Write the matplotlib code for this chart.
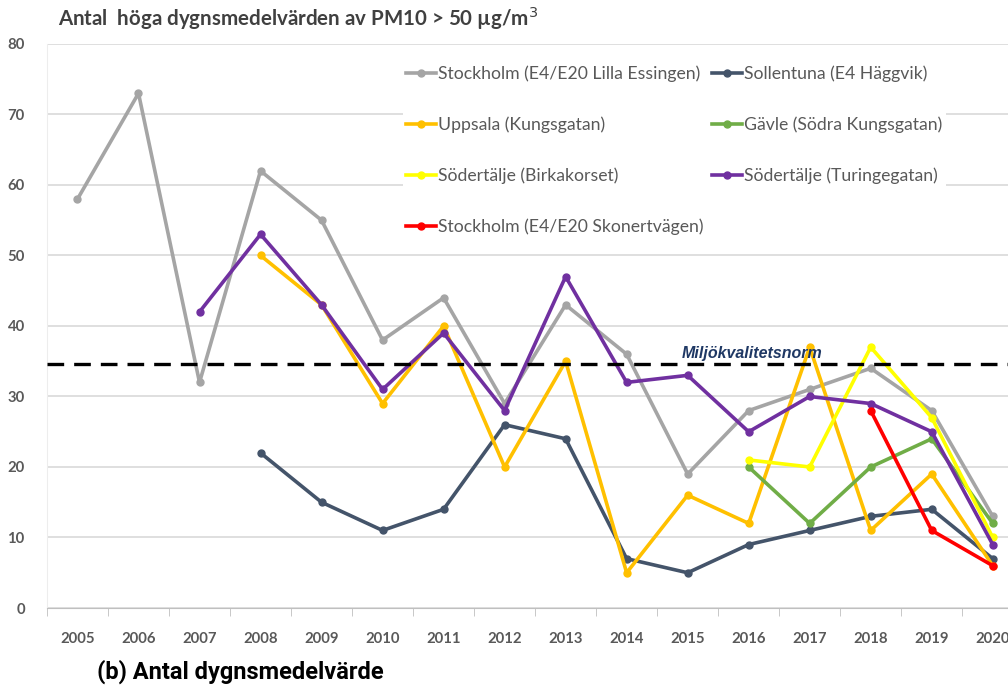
import numpy as np
import matplotlib.pyplot as plt
from matplotlib.ticker import FixedLocator

years = list(range(2005, 2021))

# values per station, None where no measurement
stockholm_le = [58, 73, 32, 62, 55, 38, 44, 29, 43, 36, 19, 28, 31, 34, 28, 13]
sollentuna   = [None, None, None, 22, 15, 11, 14, 26, 24, 7, 5, 9, 11, 13, 14, 7]
uppsala      = [None, None, None, 50, 43, 29, 40, 20, 35, 5, 16, 12, 37, 11, 19, 6]
gavle        = [None] * 11 + [20, 12, 20, 24, 12]
sod_birka    = [None] * 11 + [21, 20, 37, 27, 10]
sod_turing   = [None, None, 42, 53, 43, 31, 39, 28, 47, 32, 33, 25, 30, 29, 25, 9]
stockholm_sk = [None] * 13 + [28, 11, 6]

series = [
    ("Stockholm (E4/E20 Lilla Essingen)", stockholm_le, "#A5A5A5"),
    ("Sollentuna (E4 Häggvik)", sollentuna, "#44546A"),
    ("Uppsala (Kungsgatan)", uppsala, "#FFC000"),
    ("Gävle (Södra Kungsgatan)", gavle, "#70AD47"),
    ("Södertälje (Birkakorset)", sod_birka, "#FFFF00"),
    ("Södertälje (Turingegatan)", sod_turing, "#7030A0"),
    ("Stockholm (E4/E20 Skonertvägen)", stockholm_sk, "#FF0000"),
]
norm_value = 34.6

plt.rcParams['font.family'] = ['Lato', 'DejaVu Sans']

fig = plt.figure(figsize=(10.08, 6.86), dpi=100)
ax = fig.add_axes([0.0466, 0.1137, 0.9534, 0.8222])

x = np.arange(len(years))
handles = []
for label, vals, color in series:
    y = np.array([np.nan if v is None else v for v in vals], dtype=float)
    h, = ax.plot(x, y, color=color, lw=2.6, marker='o', ms=5, label=label, zorder=3)
    handles.append(h)

ax.axhline(norm_value, color='black', lw=2.4, ls=(0, (5, 3)), zorder=4)
ax.text(9.9, norm_value + 0.9, "Miljökvalitetsnorm", color="#1F3864",
        fontsize=11.5, fontweight='bold', style='italic', zorder=5,
        family=['Liberation Sans', 'DejaVu Sans'])

ax.set_ylim(0, 80)
ax.set_xlim(-0.5, 15.25)
ax.set_yticks(range(0, 81, 10))
ax.set_xticks(x)
ax.set_xticklabels(years)
ax.xaxis.set_minor_locator(FixedLocator(np.arange(-0.5, 15.5, 1)))
ax.tick_params(axis='x', which='major', length=0, pad=17)
ax.tick_params(axis='x', which='minor', length=6, color='#BFBFBF')
ax.tick_params(axis='y', length=0, pad=16)
for lab in ax.get_xticklabels() + ax.get_yticklabels():
    lab.set_fontsize(10.7)
    lab.set_fontweight('bold')
    lab.set_color('#595959')

ax.grid(axis='y', color='#D9D9D9', lw=1.2, zorder=0)
ax.set_axisbelow(True)
for side in ['top', 'right']:
    ax.spines[side].set_visible(False)
ax.spines['left'].set_color('#EDEDED')
ax.spines['bottom'].set_color('#BFBFBF')

# legend fills row by row in the reference: reorder for column-major filling
order = [0, 2, 4, 6, 1, 3, 5]
leg = ax.legend([handles[i] for i in order], [series[i][0] for i in order],
                loc='upper left', bbox_to_anchor=(0.37, 0.968), ncol=2,
                frameon=True, fontsize=12.7, handlelength=1.7, handletextpad=0.1,
                columnspacing=0.5, labelspacing=1.95, borderaxespad=0,
                borderpad=0.2)
leg.get_frame().set_edgecolor('none')
leg.get_frame().set_facecolor('white')
leg.get_frame().set_alpha(1)
for t in leg.get_texts():
    t.set_color('#595959')

fig.text(0.058, 0.973, "Antal  höga dygnsmedelvärden av PM10 > 50 µg/m$^3$",
         fontsize=14.8, fontweight='bold', color='#404040', va='center')
fig.text(0.096, 0.02, "(b) Antal dygnsmedelvärde", fontsize=17,
         fontweight='bold', color='black', va='center',
         family=['Roboto', 'DejaVu Sans'])

fig.savefig("out.png", dpi=100)
